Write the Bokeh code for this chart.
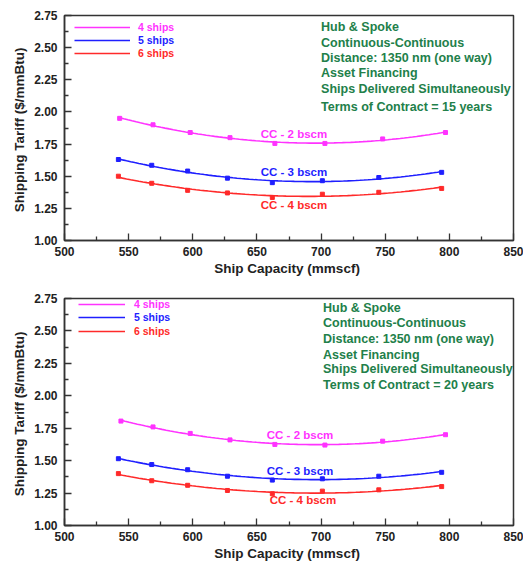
import numpy as np
from bokeh.plotting import figure
from bokeh.layouts import column
from bokeh.models import (Range1d, FixedTicker, NumeralTickFormatter, Legend,
                          LegendItem, Label)
from bokeh.embed import file_html
from bokeh.resources import INLINE

# ---------------- data ----------------
x_ticks = [500, 550, 600, 650, 700, 750, 800, 850]
y_ticks = [1.00, 1.25, 1.50, 1.75, 2.00, 2.25, 2.50, 2.75]

series_names = ["4 ships", "5 ships", "6 ships"]
curve_labels = ["CC - 2 bscm", "CC - 3 bscm", "CC - 4 bscm"]
series_colors = ["#ff33ff", "#1f1fff", "#ff2a2a"]

# Terms of Contract = 15 years
cap4_15 = [543, 569, 598, 629, 664, 703, 748, 797]
tar4_15 = [1.95, 1.90, 1.84, 1.80, 1.755, 1.755, 1.79, 1.84]
cap5_15 = [542, 568, 596, 627, 662, 701, 745, 794]
tar5_15 = [1.63, 1.585, 1.54, 1.485, 1.45, 1.465, 1.49, 1.53]
cap6_15 = [542, 568, 596, 627, 662, 701, 745, 794]
tar6_15 = [1.50, 1.445, 1.39, 1.37, 1.335, 1.36, 1.375, 1.405]

# Terms of Contract = 20 years
cap4_20 = [544, 569, 598, 629, 664, 703, 748, 797]
tar4_20 = [1.805, 1.76, 1.71, 1.66, 1.625, 1.62, 1.65, 1.70]
cap5_20 = [542, 568, 596, 627, 662, 701, 745, 794]
tar5_20 = [1.515, 1.47, 1.43, 1.38, 1.35, 1.36, 1.38, 1.41]
cap6_20 = [542, 568, 596, 627, 662, 701, 745, 794]
tar6_20 = [1.40, 1.345, 1.31, 1.27, 1.245, 1.265, 1.275, 1.30]

info_lines_15 = ["Hub & Spoke", "Continuous-Continuous", "Distance: 1350 nm (one way)",
                 "Asset Financing", "Ships Delivered Simultaneously",
                 "Terms of Contract = 15 years"]
info_lines_20 = ["Hub & Spoke", "Continuous-Continuous", "Distance: 1350 nm (one way)",
                 "Asset Financing", "Ships Delivered Simultaneously",
                 "Terms of Contract = 20 years"]

x_title = "Ship Capacity  (mmscf)"
y_title = "Shipping Tariff  ($/mmBtu)"

FONT = "Liberation Sans"
AX = "#333333"
TXT = "#222222"
GREEN = "#22804a"


def txt(p, x, y, text, color, size, align="left"):
    p.add_layout(Label(x=x, y=y, text=text, text_color=color, text_font=FONT,
                       text_font_style="bold", text_font_size=size,
                       text_baseline="middle", text_align=align))


def make_panel(caps, tars, info_lines, height, b_left, b_right, b_top, b_bottom,
               leg_off, leg_w, leg_std, leg_rows, info_pos, clabel_pos):
    p = figure(width=523, height=height, output_backend="svg", toolbar_location=None,
               x_range=Range1d(500, 850), y_range=Range1d(1.0, 2.75),
               min_border_left=b_left, min_border_right=b_right,
               min_border_top=b_top, min_border_bottom=b_bottom)
    p.xgrid.visible = False
    p.ygrid.visible = False
    p.outline_line_color = AX
    p.outline_line_width = 1.5

    minor_x = [t + 25 for t in x_ticks[:-1]]
    minor_y = [t + 0.125 for t in y_ticks[:-1]]
    p.xaxis.ticker = FixedTicker(ticks=x_ticks, minor_ticks=minor_x)
    p.yaxis.ticker = FixedTicker(ticks=y_ticks, minor_ticks=minor_y)
    p.yaxis.formatter = NumeralTickFormatter(format="0.00")
    for ax in (p.xaxis[0], p.yaxis[0]):
        ax.axis_line_color = AX
        ax.axis_line_width = 1.5
        ax.major_tick_line_color = AX
        ax.minor_tick_line_color = AX
        ax.major_tick_line_width = 1.3
        ax.minor_tick_line_width = 1.3
        ax.major_tick_in = 7
        ax.major_tick_out = 0
        ax.minor_tick_in = 4
        ax.minor_tick_out = 0
        ax.major_label_text_font = FONT
        ax.major_label_text_font_style = "bold"
        ax.major_label_text_font_size = "12px"
        ax.major_label_text_color = TXT
        ax.axis_label_text_font = FONT
        ax.axis_label_text_font_style = "bold"
        ax.axis_label_text_font_size = "13.5px"
        ax.axis_label_text_color = TXT
    p.xaxis.major_label_standoff = 6
    p.yaxis.major_label_standoff = 7
    p.xaxis.axis_label_standoff = 2
    p.yaxis.axis_label_standoff = 4
    p.xaxis.axis_label = x_title
    p.yaxis.axis_label = y_title

    frame_h = height - b_top - b_bottom
    for i, (cx, ty) in enumerate(zip(caps, tars)):
        col = series_colors[i]
        coef = np.polyfit(cx, ty, 2)
        xs = np.linspace(min(cx), max(cx), 80)
        r = p.line(xs, np.polyval(coef, xs), line_color=col, line_width=1.6)
        p.scatter(cx, ty, marker="square", size=4, color=col)
        leg = Legend(items=[LegendItem(label=series_names[i], renderers=[r])],
                     location=(leg_off, frame_h - leg_rows[i] - 6),
                     padding=0, margin=0, spacing=0,
                     glyph_width=leg_w, glyph_height=12, label_height=12,
                     label_standoff=leg_std,
                     label_text_font=FONT, label_text_font_style="bold",
                     label_text_font_size="10.5px", label_text_color=col,
                     border_line_alpha=0, background_fill_alpha=0)
        p.add_layout(leg)
        lx, ly = clabel_pos[i]
        txt(p, lx, ly, curve_labels[i], col, "11.5px")
    ix, iys = info_pos
    for line, iy in zip(info_lines, iys):
        txt(p, ix, iy, line, GREEN, "12.5px")
    return p


p1 = make_panel([cap4_15, cap5_15, cap6_15], [tar4_15, tar5_15, tar6_15], info_lines_15,
                height=280, b_left=64, b_right=10, b_top=15, b_bottom=40,
                leg_off=10, leg_w=56, leg_std=8, leg_rows=[11.5, 24.5, 37.5],
                info_pos=(700, [2.657, 2.54, 2.423, 2.299, 2.182, 2.042]),
                clabel_pos=[(653, 1.832), (653, 1.529), (653, 1.273)])
p2 = make_panel([cap4_20, cap5_20, cap6_20], [tar4_20, tar5_20, tar6_20], info_lines_20,
                height=283, b_left=62, b_right=6, b_top=18, b_bottom=36,
                leg_off=14, leg_w=47, leg_std=9, leg_rows=[8, 21, 35],
                info_pos=(701.5, [2.673, 2.563, 2.436, 2.316, 2.206, 2.08]),
                clabel_pos=[(657.7, 1.695), (657.7, 1.419), (660, 1.197)])

page = column(p1, p2, spacing=0)
open("out.html", "w").write(file_html(page, INLINE))
